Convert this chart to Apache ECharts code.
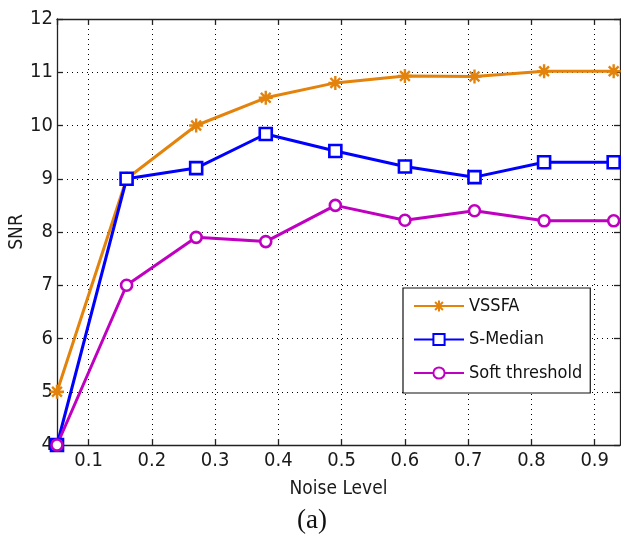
<!DOCTYPE html>
<html>
<head>
<meta charset="utf-8">
<script src="https://cdn.jsdelivr.net/npm/echarts@6/dist/echarts.min.js"></script>
<style>html,body{margin:0;padding:0;background:#fff;}#c{width:621px;height:542px;}</style>
</head>
<body>
<div id="c"></div>
<script>
const noiseLevels = [0.05, 0.16, 0.27, 0.38, 0.49, 0.60, 0.71, 0.82, 0.93];
const vssfa = [5.0, 9.0, 10.0, 10.52, 10.8, 10.93, 10.92, 11.02, 11.02];
const sMedian = [4.0, 9.0, 9.2, 9.84, 9.52, 9.23, 9.03, 9.31, 9.31];
const softThreshold = [4.0, 7.0, 7.9, 7.82, 8.5, 8.22, 8.4, 8.21, 8.21];
const seriesNames = ['VSSFA', 'S-Median', 'Soft threshold'];
const xTitle = 'Noise Level';
const yTitle = 'SNR';
const caption = '(a)';

const FONT = "'Liberation Sans Narrow', 'Arial Narrow', 'DejaVu Sans Condensed', sans-serif";
const pairs = arr => noiseLevels.map((x, i) => [x, arr[i]]);
const STAR = 'path://M0,-10L0,10M-10,0L10,0M-7,-7L7,7M-7,7L7,-7';

const axisLineStyle = { color: '#222', width: 1.3 };
const chart = echarts.init(document.getElementById('c'), null, { renderer: 'canvas' });
chart.setOption({
  animation: false,
  backgroundColor: '#fff',
  grid: { left: 57, top: 19, right: 1, bottom: 97, containLabel: false, outerBoundsMode: 'none' },
  xAxis: [{
    type: 'value', min: 0.05, max: 0.94, splitNumber: 9,
    name: xTitle, nameLocation: 'middle', nameGap: 35, nameMoveOverlap: false,
    nameTextStyle: { fontFamily: FONT, fontSize: 19, color: '#1a1a1a' },
    axisLine: { show: true, onZero: false, lineStyle: axisLineStyle },
    axisTick: { show: true, inside: true, length: 6, lineStyle: axisLineStyle },
    axisLabel: { showMinLabel: false, showMaxLabel: false, margin: 6, fontFamily: FONT, fontSize: 20, color: '#1a1a1a' },
    splitLine: { show: true, lineStyle: { color: '#000', width: 1, type: [1, 4] } }
  }, {
    type: 'value', position: 'top', min: 0.05, max: 0.94, splitNumber: 9,
    axisLine: { show: true, onZero: false, lineStyle: axisLineStyle },
    axisTick: { show: true, inside: true, length: 6, lineStyle: axisLineStyle },
    axisLabel: { show: false }, splitLine: { show: false }
  }],
  yAxis: [{
    type: 'value', min: 4, max: 12, interval: 1,
    name: yTitle, nameLocation: 'middle', nameGap: 30, nameRotate: 90, nameMoveOverlap: false,
    nameTextStyle: { fontFamily: FONT, fontSize: 19, color: '#1a1a1a' },
    axisLine: { show: true, onZero: false, lineStyle: axisLineStyle },
    axisTick: { show: true, inside: true, length: 6, lineStyle: axisLineStyle },
    axisLabel: { margin: 4, fontFamily: FONT, fontSize: 20, color: '#1a1a1a' },
    splitLine: { show: true, lineStyle: { color: '#000', width: 1, type: [1, 4] } }
  }, {
    type: 'value', position: 'right', min: 4, max: 12, interval: 1,
    axisLine: { show: true, onZero: false, lineStyle: axisLineStyle },
    axisTick: { show: true, inside: true, length: 6, lineStyle: axisLineStyle },
    axisLabel: { show: false }, splitLine: { show: false }
  }],
  legend: {
    orient: 'vertical', left: 403, top: 288,
    padding: [6, 8, 8, 10], itemGap: 9.5, itemWidth: 50, itemHeight: 14,
    backgroundColor: '#fff', borderColor: '#111', borderWidth: 1.2,
    textStyle: { fontFamily: FONT, fontSize: 18, color: '#111', lineHeight: 24, padding: [0, 0, 0, 0] },
    data: seriesNames
  },
  series: [{
    name: seriesNames[0], type: 'line', data: pairs(vssfa), clip: false,
    symbol: STAR, symbolSize: 14,
    lineStyle: { color: '#E3830B', width: 3 },
    itemStyle: { color: '#E3830B', borderColor: '#E3830B', borderWidth: 2.4 }
  }, {
    name: seriesNames[1], type: 'line', data: pairs(sMedian), clip: false,
    symbol: 'rect', symbolSize: 12,
    lineStyle: { color: '#0000FF', width: 3 },
    itemStyle: { color: '#fff', borderColor: '#0000FF', borderWidth: 2.6 }
  }, {
    name: seriesNames[2], type: 'line', data: pairs(softThreshold), clip: false,
    symbol: 'circle', symbolSize: 11,
    lineStyle: { color: '#C000C0', width: 3 },
    itemStyle: { color: '#fff', borderColor: '#C000C0', borderWidth: 2.6 }
  }],
  graphic: [{
    type: 'text', x: 312, y: 521,
    style: { text: caption, font: "27px 'Liberation Serif', 'Times New Roman', serif", fill: '#111', align: 'center', verticalAlign: 'middle' }
  }]
});
</script>
</body>
</html>
